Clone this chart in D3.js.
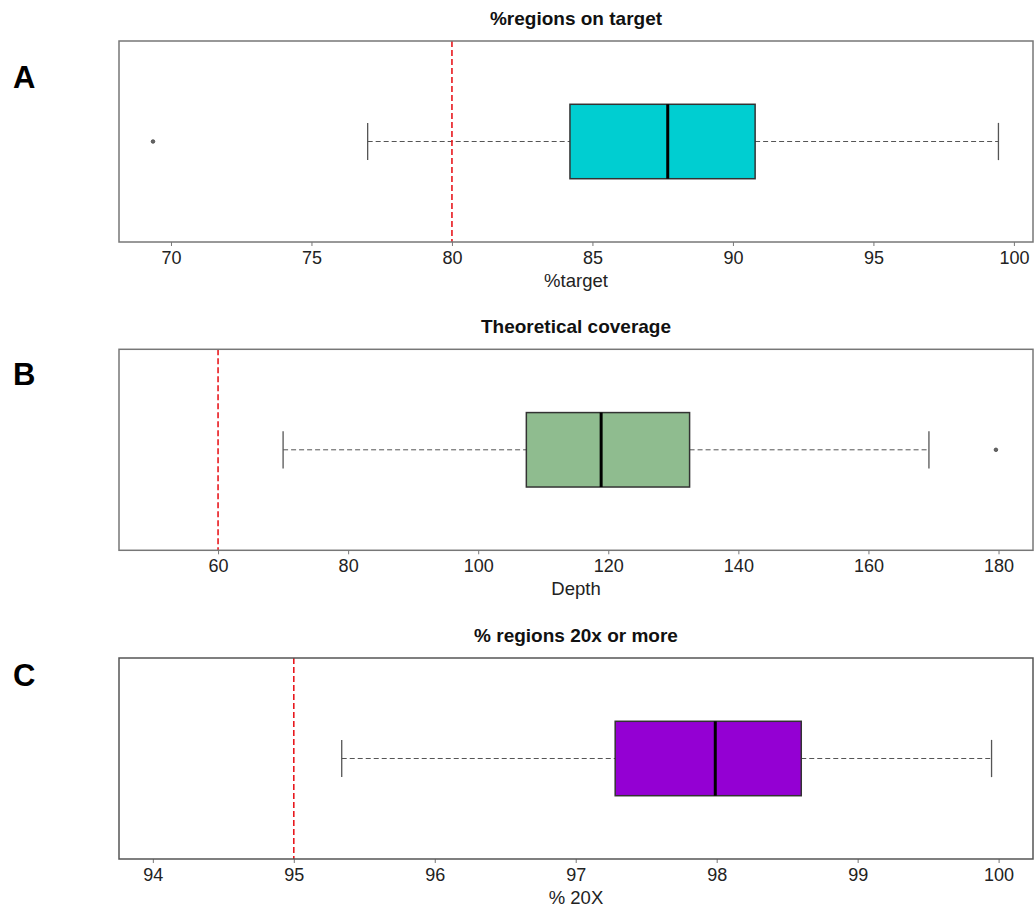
<!DOCTYPE html>
<html>
<head>
<meta charset="utf-8">
<script src="https://cdn.jsdelivr.net/npm/d3@7"></script>
<style>
  body { margin: 0; background: #fff; }
  svg { display: block; font-family: "Liberation Sans", Arial, sans-serif; }
</style>
</head>
<body>
<svg id="chart" width="1035" height="908"></svg>
<script>
// data, one entry per panel
const panelLetters = ['A', 'B', 'C'];
const titles = ['%regions on target', 'Theoretical coverage', '% regions 20x or more'];
const xLabels = ['%target', 'Depth', '% 20X'];
const lowerWhisker = [77.0, 70.0, 95.34];
const q1 = [84.2, 107.4, 97.28];
const median = [87.68, 118.9, 97.99];
const q3 = [90.79, 132.5, 98.6];
const upperWhisker = [99.45, 169.3, 99.95];
const outliers = [[69.36], [179.6], []];
const thresholds = [80, 60, 95];
const xDomains = [[68.15, 100.68], [44.77, 185.3], [93.76, 100.244]];
const tickValues = [
  [70, 75, 80, 85, 90, 95, 100],
  [60, 80, 100, 120, 140, 160, 180],
  [94, 95, 96, 97, 98, 99, 100]
];

// layout / style
const fills = ['#00CED1', '#8FBC8F', '#9400D3'];
const frameColors = ['#777', '#777', '#555'];
const plotTops = [41, 349.3, 658];
const letterOffsets = [46.5, 36, 28];
const plotH = 201;
const left = 119, right = 1033;

const svg = d3.select('#chart');

panelLetters.forEach((letter, i) => {
  const top = plotTops[i];
  const bottom = top + plotH;

  const x = d3.scaleLinear().domain(xDomains[i]).range([left, right]);
  // R style: single group at 1, ylim 0.5..1.5 expanded 4%
  const y = d3.scaleLinear().domain([0.46, 1.54]).range([bottom, top]);

  const g = svg.append('g');

  // panel letter
  g.append('text')
    .attr('x', 13)
    .attr('y', top + letterOffsets[i])
    .attr('font-size', 31)
    .attr('font-weight', 'bold')
    .attr('fill', '#000')
    .text(letter);

  // title
  g.append('text')
    .attr('x', (left + right) / 2)
    .attr('y', top - 16)
    .attr('text-anchor', 'middle')
    .attr('font-size', 19)
    .attr('font-weight', 'bold')
    .attr('fill', '#111')
    .text(titles[i]);

  // axis
  const axis = g.append('g')
    .attr('transform', `translate(0,${bottom})`)
    .call(d3.axisBottom(x)
      .tickValues(tickValues[i])
      .tickFormat(d3.format('d'))
      .tickSize(4)
      .tickPadding(5));
  axis.select('.domain').remove();
  axis.selectAll('.tick line').attr('stroke', '#777');
  axis.selectAll('.tick text')
    .attr('font-size', 18)
    .attr('font-family', '"Liberation Sans", Arial, sans-serif')
    .attr('fill', '#222');

  // x label
  g.append('text')
    .attr('x', (left + right) / 2)
    .attr('y', bottom + 45)
    .attr('text-anchor', 'middle')
    .attr('font-size', 18.5)
    .attr('fill', '#222')
    .text(xLabels[i]);

  // whiskers
  [[lowerWhisker[i], q1[i]], [q3[i], upperWhisker[i]]].forEach(([a, b]) => {
    g.append('line')
      .attr('x1', x(a)).attr('x2', x(b))
      .attr('y1', y(1)).attr('y2', y(1))
      .attr('stroke', '#555')
      .attr('stroke-width', 1)
      .attr('stroke-dasharray', '5,3');
  });
  [lowerWhisker[i], upperWhisker[i]].forEach(v => {
    g.append('line')
      .attr('x1', x(v)).attr('x2', x(v))
      .attr('y1', y(1.1)).attr('y2', y(0.9))
      .attr('stroke', '#555')
      .attr('stroke-width', 1.3);
  });

  // box
  g.append('rect')
    .attr('x', x(q1[i]))
    .attr('y', y(1.2))
    .attr('width', x(q3[i]) - x(q1[i]))
    .attr('height', y(0.8) - y(1.2))
    .attr('fill', fills[i])
    .attr('stroke', '#333')
    .attr('stroke-width', 1.5);

  g.append('line')
    .attr('x1', x(median[i])).attr('x2', x(median[i]))
    .attr('y1', y(1.2)).attr('y2', y(0.8))
    .attr('stroke', '#000')
    .attr('stroke-width', 3);

  // outliers
  g.selectAll('.outlier')
    .data(outliers[i])
    .enter()
    .append('circle')
    .attr('class', 'outlier')
    .attr('cx', d => x(d))
    .attr('cy', y(1))
    .attr('r', 1.8)
    .attr('fill', '#666')
    .attr('stroke', '#444')
    .attr('stroke-width', 0.8);

  // threshold
  g.append('line')
    .attr('x1', x(thresholds[i])).attr('x2', x(thresholds[i]))
    .attr('y1', top).attr('y2', bottom)
    .attr('stroke', '#e8181e')
    .attr('stroke-width', 1.6)
    .attr('stroke-dasharray', '6,3');

  // frame
  g.append('rect')
    .attr('x', left)
    .attr('y', top)
    .attr('width', right - left)
    .attr('height', plotH)
    .attr('fill', 'none')
    .attr('stroke', frameColors[i])
    .attr('stroke-width', 1.5);
});
</script>
</body>
</html>
